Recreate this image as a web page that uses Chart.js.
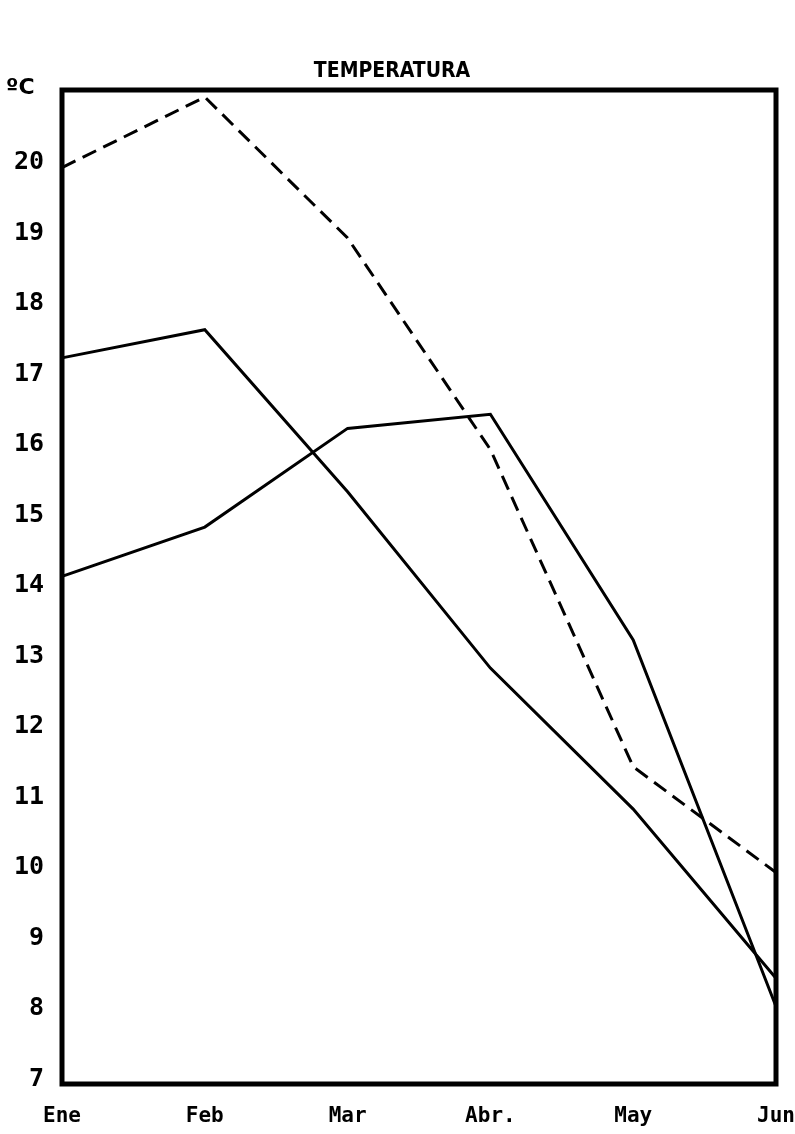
<!DOCTYPE html>
<html>
<head>
<meta charset="utf-8">
<script src="https://cdn.jsdelivr.net/npm/chart.js@4/dist/chart.umd.min.js"></script>
<style>
  html, body { margin: 0; padding: 0; background: #fff; }
  #wrap { width: 795px; height: 1134px; position: relative; }
</style>
</head>
<body>
<div id="wrap"><canvas id="cnv"></canvas></div>
<script>
const months = ['Ene', 'Feb', 'Mar', 'Abr.', 'May', 'Jun'];
const dashedSeries = [20.0, 21.0, 19.0, 16.0, 11.5, 10.0];
const solidA = [17.3, 17.7, 15.4, 12.9, 10.9, 8.5];
const solidB = [14.2, 14.9, 16.3, 16.5, 13.3, 8.1];
const yTicks = [7, 8, 9, 10, 11, 12, 13, 14, 15, 16, 17, 18, 19, 20];
const titleText = 'TEMPERATURA';
const unitText = 'ºC';

const fontName = '"DejaVu Sans Mono", monospace';

// frame round the plot area plus title and unit label
const framePlugin = {
  id: 'frame',
  afterDraw(chart) {
    const ctx = chart.ctx;
    const a = chart.chartArea;
    ctx.save();
    ctx.strokeStyle = '#000';
    ctx.lineWidth = 5;
    ctx.strokeRect(a.left, a.top, a.right - a.left, a.bottom - a.top);
    ctx.fillStyle = '#000';
    ctx.textBaseline = 'middle';
    ctx.textAlign = 'center';
    ctx.font = 'bold 21px "DejaVu Sans Condensed", "DejaVu Sans", sans-serif';
    ctx.fillText(titleText, 392, 72);
    ctx.textAlign = 'left';
    ctx.font = 'bold 22px "DejaVu Sans", sans-serif';
    ctx.fillText(unitText, 6, 88);
    ctx.restore();
  }
};

const ctx = document.getElementById('cnv').getContext('2d');
new Chart(ctx, {
  type: 'line',
  data: {
    labels: months,
    datasets: [
      { data: dashedSeries, borderColor: '#000', borderWidth: 3, borderDash: [15, 8] },
      { data: solidA, borderColor: '#000', borderWidth: 3 },
      { data: solidB, borderColor: '#000', borderWidth: 3 }
    ]
  },
  options: {
    responsive: true,
    maintainAspectRatio: false,
    animation: false,
    layout: { padding: { top: 90, right: 19, left: 0, bottom: 0 } },
    elements: { point: { radius: 0 }, line: { tension: 0 } },
    plugins: { legend: { display: false }, tooltip: { enabled: false } },
    scales: {
      x: {
        offset: false,
        grid: { display: false, drawTicks: false },
        border: { display: false },
        ticks: { color: '#000', font: { family: fontName, size: 21, weight: 'bold' }, padding: 20, labelOffset: 0, maxRotation: 0, autoSkip: false },
        afterFit: s => { s.height = 50; s.paddingLeft = 0; s.paddingRight = 0; }
      },
      y: {
        min: 7,
        max: 21.1,
        grid: { display: false, drawTicks: false },
        border: { display: false },
        afterBuildTicks: s => { s.ticks = yTicks.map(v => ({ value: v })); },
        ticks: { color: '#000', font: { family: fontName, size: 25, weight: 'bold' }, padding: 18, labelOffset: -5 },
        afterFit: s => { s.width = 62; s.paddingTop = 0; s.paddingBottom = 0; }
      }
    }
  },
  plugins: [framePlugin]
});
</script>
</body>
</html>
